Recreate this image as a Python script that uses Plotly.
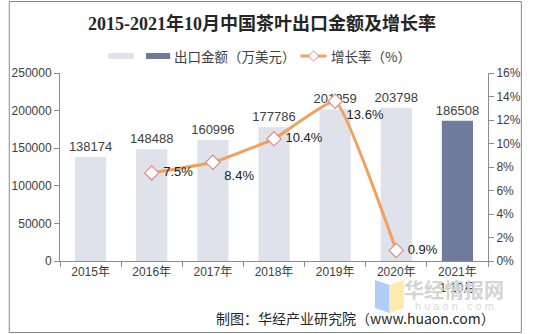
import plotly.graph_objects as go

# ---- data ----
years = ["2015年", "2016年", "2017年", "2018年", "2019年", "2020年", "2021年<br>1-10月"]
export_value = [138174, 148488, 160996, 177786, 201959, 203798, 186508]  # 万美元
growth_years = ["2016年", "2017年", "2018年", "2019年", "2020年"]
growth_rate = [7.5, 8.4, 10.4, 13.6, 0.9]  # %
growth_pos = ["middle right", "bottom right", "middle right", "bottom right", "middle right"]

W, H = 533, 334
L, R, T, B = 54, 497, 73, 261  # plot area in pixels

LIGHT = "#dfe2ea"
DARK = "#6f7a9c"
ORANGE = "#f2a05c"
MARKER_EDGE = "#e08a86"
AXIS = "#8c8c8c"
TXT = "#404040"
FONT = "Liberation Sans, Arial, Noto Sans CJK SC, sans-serif"
CJK = "Noto Sans CJK SC, sans-serif"


def px(x):
    return (x - L) / (R - L)


def py(y):
    return (B - y) / (B - T)


fig = go.Figure()

fig.add_trace(go.Bar(
    x=years[:-1], y=export_value[:-1],
    marker=dict(color=LIGHT, line=dict(width=0)),
    text=[str(v) for v in export_value[:-1]], textposition="outside",
    constraintext="none",
    textfont=dict(size=13, color=TXT, family=FONT),
    cliponaxis=False, showlegend=False,
))
fig.add_trace(go.Bar(
    x=years[-1:], y=export_value[-1:],
    marker=dict(color=DARK, line=dict(width=0)),
    text=[str(v) for v in export_value[-1:]], textposition="outside",
    constraintext="none",
    textfont=dict(size=13, color=TXT, family=FONT),
    cliponaxis=False, showlegend=False,
))
fig.add_trace(go.Scatter(
    x=growth_years, y=growth_rate, yaxis="y2",
    mode="lines+markers+text",
    line=dict(color=ORANGE, width=3, shape="spline", smoothing=0.35),
    marker=dict(symbol="diamond", size=11, color="white",
                line=dict(color=MARKER_EDGE, width=1.2)),
    text=[f" {v}%" for v in growth_rate], textposition=growth_pos,
    textfont=dict(size=13, color="#202020", family=FONT),
    cliponaxis=False, showlegend=False,
))

shapes = []
annotations = []

# outer frame
shapes.append(dict(type="rect", xref="paper", yref="paper",
                   x0=px(1.5), x1=px(531.5), y0=py(1.5), y1=py(332.5),
                   line=dict(color="#8a8a8a", width=1), layer="below"))

# legend
shapes.append(dict(type="rect", xref="paper", yref="paper",
                   x0=px(104), x1=px(130), y0=py(59), y1=py(53),
                   fillcolor=LIGHT, line=dict(width=0)))
shapes.append(dict(type="rect", xref="paper", yref="paper",
                   x0=px(143), x1=px(168), y0=py(59), y1=py(53),
                   fillcolor=DARK, line=dict(width=0)))
annotations.append(dict(xref="paper", yref="paper", x=px(170), y=py(56),
                        xanchor="left", yanchor="middle", showarrow=False,
                        text="出口金额（万美元）",
                        font=dict(size=13.5, color=TXT, family=CJK)))
shapes.append(dict(type="line", xref="paper", yref="paper",
                   x0=px(303), x1=px(330), y0=py(56), y1=py(56),
                   line=dict(color=ORANGE, width=3)))
shapes.append(dict(type="path", xref="paper", yref="paper",
                   path=f"M {px(311)} {py(56)} L {px(316.5)} {py(51)} L {px(322)} {py(56)} L {px(316.5)} {py(61)} Z",
                   fillcolor="white", line=dict(color=MARKER_EDGE, width=1)))
annotations.append(dict(xref="paper", yref="paper", x=px(332), y=py(56),
                        xanchor="left", yanchor="middle", showarrow=False,
                        text="增长率（%）",
                        font=dict(size=13.5, color=TXT, family=CJK)))

# watermark logo (drawn faint, beneath the axis labels)
shapes.append(dict(type="path", xref="paper", yref="paper", layer="below",
                   path=f"M {px(380)} {py(280)} L {px(395)} {py(285)} L {px(395)} {py(313)} L {px(380)} {py(308)} Z",
                   fillcolor="#a9c8f5", line=dict(width=0), opacity=0.9))
shapes.append(dict(type="path", xref="paper", yref="paper", layer="below",
                   path=f"M {px(395)} {py(285)} L {px(410)} {py(280)} L {px(410)} {py(308)} L {px(395)} {py(313)} Z",
                   fillcolor="#fbe9a6", line=dict(width=0), opacity=0.9))
annotations.append(dict(xref="paper", yref="paper", x=px(462), y=py(289),
                        xanchor="center", yanchor="middle", showarrow=False,
                        text="<b>华经情报网</b>",
                        font=dict(size=20, color="#d4d4d4", family=CJK)))
annotations.append(dict(xref="paper", yref="paper", x=px(462), y=py(306),
                        xanchor="center", yanchor="middle", showarrow=False,
                        text="h u a o n . c o m",
                        font=dict(size=11, color="#dadada", family=FONT)))

# title and source note
annotations.append(dict(xref="paper", yref="paper", x=px(263), y=py(23),
                        xanchor="center", yanchor="middle", showarrow=False,
                        text="<b>2015-2021年10月中国茶叶出口金额及增长率</b>",
                        font=dict(size=18, color="#262626",
                                  family="Liberation Serif, Noto Sans CJK SC, serif")))
annotations.append(dict(xref="paper", yref="paper", x=px(506), y=py(318),
                        xanchor="right", yanchor="middle", showarrow=False,
                        text="制图：华经产业研究院（www.huaon.com）",
                        font=dict(size=14, color="#262626", family=CJK)))

fig.update_layout(
    width=W, height=H,
    margin=dict(l=L, r=W - R, t=T, b=H - B, pad=0),
    paper_bgcolor="white", plot_bgcolor="white",
    barmode="overlay", bargap=0.49,
    showlegend=False,
    xaxis=dict(
        type="category", categoryorder="array", categoryarray=years,
        showline=True, linecolor=AXIS, linewidth=1,
        ticks="outside", tickson="boundaries", ticklen=5, tickcolor=AXIS,
        tickfont=dict(size=12, color=TXT, family=FONT),
        showgrid=False, zeroline=False,
    ),
    yaxis=dict(
        range=[0, 250000], dtick=50000, tickformat="d",
        showline=True, linecolor=AXIS, linewidth=1,
        ticks="outside", ticklen=5, tickcolor=AXIS,
        tickfont=dict(size=12, color=TXT, family=FONT),
        showgrid=False, zeroline=False,
    ),
    yaxis2=dict(
        overlaying="y", side="right", range=[0, 16], dtick=2, ticksuffix="%",
        showline=True, linecolor=AXIS, linewidth=1,
        ticks="outside", ticklen=5, tickcolor=AXIS,
        tickfont=dict(size=12, color=TXT, family=FONT),
        showgrid=False, zeroline=False,
    ),
    shapes=shapes,
    annotations=annotations,
)

fig.write_html("out.html")
